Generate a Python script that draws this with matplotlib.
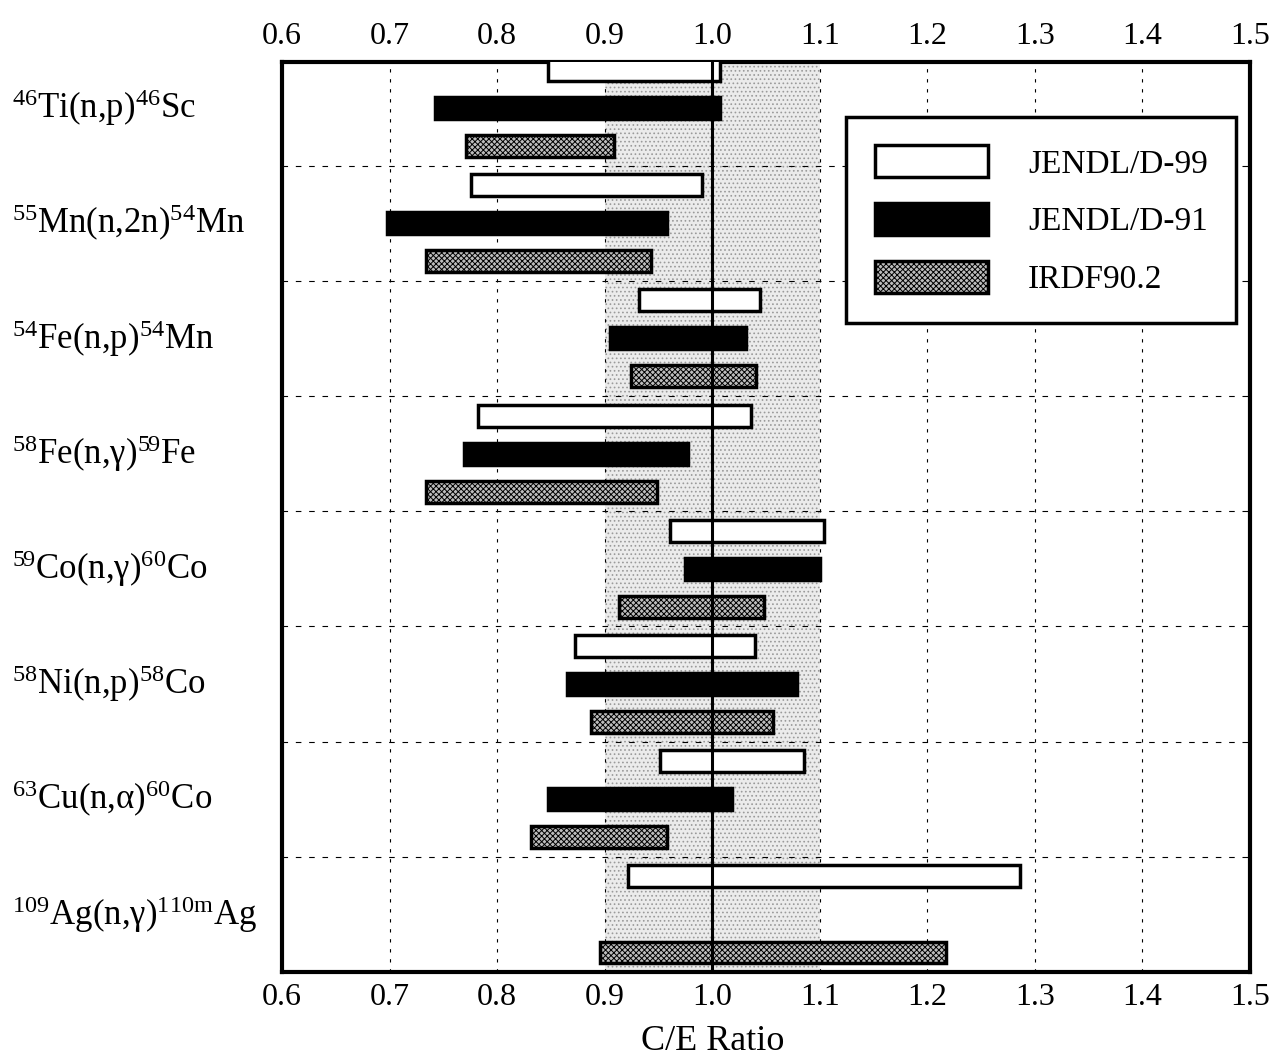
import numpy as np
import matplotlib
matplotlib.use("Agg")
import matplotlib.pyplot as plt
from matplotlib.patches import Patch

plt.rcParams['font.family'] = ['Liberation Serif', 'DejaVu Serif']
plt.rcParams['mathtext.fontset'] = 'custom'
plt.rcParams['mathtext.rm'] = 'Liberation Serif'
plt.rcParams['mathtext.it'] = 'Liberation Serif:italic'
plt.rcParams['hatch.linewidth'] = 0.7

# reactions, top to bottom
reacciones = [r'$^{46}\mathrm{Ti(n{,}p)}^{46}\mathrm{Sc}$',
              r'$^{55}\mathrm{Mn(n{,}2n)}^{54}\mathrm{Mn}$',
              r'$^{54}\mathrm{Fe(n{,}p)}^{54}\mathrm{Mn}$',
              r'$^{58}\mathrm{Fe(n{,}γ)}^{59}\mathrm{Fe}$',
              r'$^{59}\mathrm{Co(n{,}γ)}^{60}\mathrm{Co}$',
              r'$^{58}\mathrm{Ni(n{,}p)}^{58}\mathrm{Co}$',
              r'$^{63}\mathrm{Cu(n{,}α)}^{60}\mathrm{Co}$',
              r'$^{109}\mathrm{Ag(n{,}γ)}^{110\mathrm{m}}\mathrm{Ag}$']

# C/E ranges (min, max)
jendl99_min = [0.847, 0.776, 0.932, 0.782, 0.961, 0.872, 0.951, 0.922]
jendl99_max = [1.007, 0.990, 1.044, 1.036, 1.104, 1.040, 1.085, 1.286]
jendl91_min = [0.742, 0.698, 0.905, 0.769, 0.975, 0.865, 0.847, np.nan]
jendl91_max = [1.007, 0.958, 1.031, 0.977, 1.100, 1.079, 1.018, np.nan]
irdf_min = [0.771, 0.734, 0.924, 0.734, 0.913, 0.887, 0.831, 0.896]
irdf_max = [0.909, 0.943, 1.041, 0.949, 1.048, 1.056, 0.958, 1.217]

xticks = [0.6, 0.7, 0.8, 0.9, 1.0, 1.1, 1.2, 1.3, 1.4, 1.5]

fig = plt.figure(figsize=(12.74, 10.62), dpi=100)
ax = fig.add_axes([0.2214, 0.0847, 0.7598, 0.857])

# banda 0.9 - 1.1
ax.axvspan(0.9, 1.1, facecolor='#ebebeb', edgecolor='#9a9a9a', hatch='....', linewidth=0, zorder=0)

y = np.arange(len(reacciones))
off = 0.33
alto = 0.19

estilos = [
    dict(facecolor='white', edgecolor='black', linewidth=2.5),
    dict(facecolor='black', edgecolor='black', linewidth=2.5),
    dict(facecolor='#bdbdbd', edgecolor='black', linewidth=2.5, hatch='xxxxxx'),
]
series = [(jendl99_min, jendl99_max), (jendl91_min, jendl91_max), (irdf_min, irdf_max)]
nombres = ['JENDL/D-99', 'JENDL/D-91', 'IRDF90.2']

for k, (lo, hi) in enumerate(series):
    lo = np.array(lo)
    hi = np.array(hi)
    ok = ~np.isnan(lo)
    ax.barh(y[ok] + (k - 1) * off, hi[ok] - lo[ok], left=lo[ok], height=alto,
            zorder=3, **estilos[k])

ax.axvline(1.0, color='black', linewidth=2.2, zorder=4)

# rejilla
for xv in xticks[1:-1]:
    if xv != 1.0:
        ax.axvline(xv, color='black', linewidth=0.8, linestyle=(0, (3, 6)), zorder=1)
for i in range(len(reacciones) - 1):
    ax.axhline(i + 0.5, color='black', linewidth=0.8, linestyle=(0, (5, 7)), zorder=1)

ax.set_xlim(0.6, 1.5)
ax.set_ylim(7.5, -0.4)
ax.set_xticks(xticks)
ax.set_xticklabels(['%.1f' % v for v in xticks])
ax.tick_params(axis='x', which='both', top=True, labeltop=True, bottom=True, labelbottom=True,
               length=0, labelsize=23, pad=8)
ax.set_yticks([])
for s in ax.spines.values():
    s.set_linewidth(3)

ax.set_xlabel('C/E Ratio', fontsize=26)
ax.xaxis.set_label_coords(0.4445, -0.058)

for i, r in enumerate(reacciones):
    ax.text(-0.279, i, r, transform=ax.get_yaxis_transform(), ha='left', va='center', fontsize=25)

handles = [Patch(**e) for e in estilos]
leg = ax.legend(handles, nombres, loc='upper right', bbox_to_anchor=(0.9855, 0.9395),
                borderaxespad=0, fontsize=24, handlelength=3.4, handleheight=1.1,
                labelspacing=0.7, borderpad=0.85, handletextpad=1.2, fancybox=False,
                framealpha=1, edgecolor='black')
leg.get_frame().set_linewidth(2.5)
leg.set_zorder(5)

fig.savefig('out.png', dpi=100)
